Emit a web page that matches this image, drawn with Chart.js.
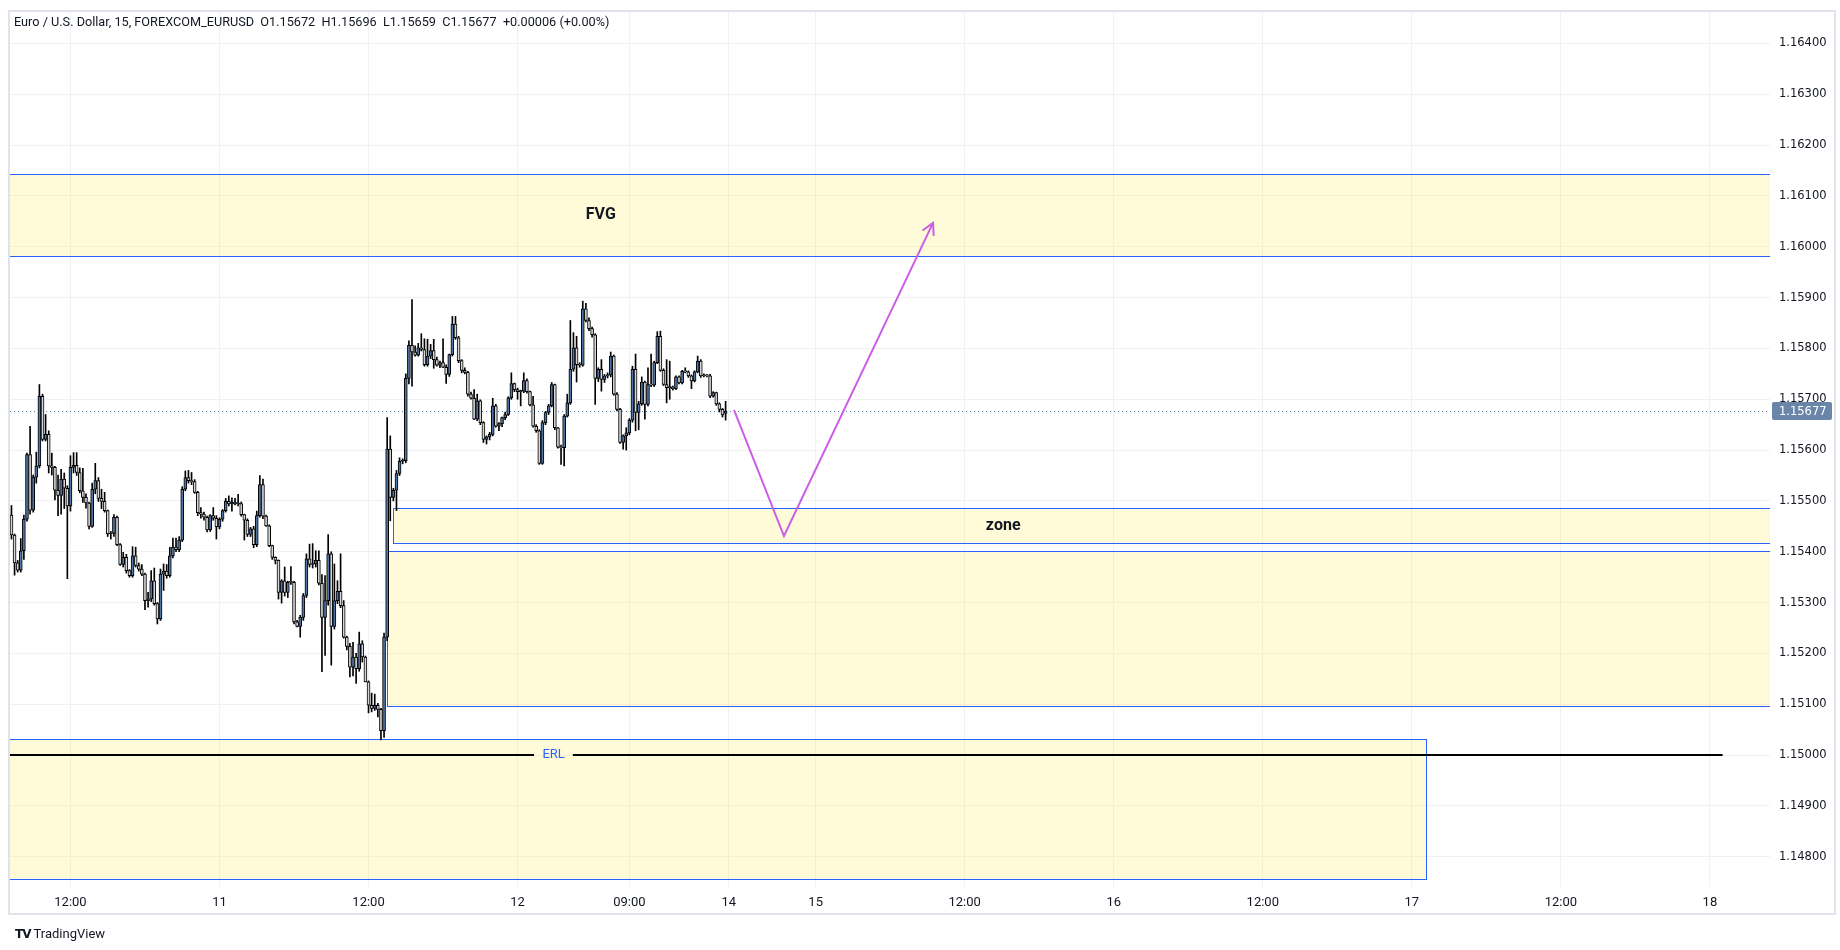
<!DOCTYPE html>
<html>
<head>
<meta charset="utf-8">
<title>EURUSD 15</title>
<script src="https://cdn.jsdelivr.net/npm/chart.js@4.4.1/dist/chart.umd.min.js"></script>
<style>
  html, body { margin: 0; padding: 0; background: #ffffff; }
  #wrap { position: relative; width: 1840px; height: 950px; overflow: hidden; }
  #chart { position: absolute; left: 0; top: 0; }
  #legend {
    position: absolute; left: 14px; top: 14px;
    font: 12.7px 'Liberation Sans Narrow', Roboto, sans-serif; color: #131722; white-space: pre;
  }
  #brand {
    position: absolute; left: 15px; top: 926px;
    font: 13px 'Liberation Sans Narrow', Roboto, sans-serif; color: #131722;
  }
  #brand b { font: 900 12px 'DejaVu Sans', sans-serif; letter-spacing: -1px; margin-right: 3px; }
</style>
</head>
<body>
<div id="wrap">
  <canvas id="chart" width="1840" height="950"></canvas>
  <div id="legend">Euro / U.S. Dollar, 15, FOREXCOM_EURUSD  O1.15672  H1.15696  L1.15659  C1.15677  +0.00006 (+0.00%)</div>
  <div id="brand"><b>TV</b>TradingView</div>
</div>
<script>
// 15 minute bars, slot 0 = day 11 00:00 (weekend slots removed)
const firstBarSlot = -67;

const opens = [
  1.15472, 1.15433, 1.15378, 1.15364, 1.15402, 1.15464, 1.15591, 1.15482, 1.15547, 1.15569,
  1.15706, 1.15621, 1.15631, 1.15569, 1.15566, 1.15521, 1.15511, 1.15543, 1.15525, 1.15490,
  1.15566, 1.15570, 1.15556, 1.15520, 1.15507, 1.15496, 1.15450, 1.15523, 1.15540, 1.15505,
  1.15499, 1.15481, 1.15435, 1.15436, 1.15468, 1.15414, 1.15375, 1.15389, 1.15363, 1.15353,
  1.15392, 1.15373, 1.15366, 1.15356, 1.15304, 1.15307, 1.15343, 1.15298, 1.15268, 1.15356,
  1.15362, 1.15353, 1.15392, 1.15409, 1.15404, 1.15423, 1.15523, 1.15546, 1.15540, 1.15538,
  1.15517, 1.15477, 1.15474, 1.15468, 1.15443, 1.15471, 1.15466, 1.15449, 1.15464, 1.15481,
  1.15499, 1.15494, 1.15498, 1.15494, 1.15495, 1.15473, 1.15462, 1.15434, 1.15445, 1.15414,
  1.15471, 1.15532, 1.15470, 1.15451, 1.15412, 1.15389, 1.15383, 1.15320, 1.15343, 1.15320,
  1.15340, 1.15340, 1.15262, 1.15253, 1.15271, 1.15314, 1.15386, 1.15375, 1.15376, 1.15383,
  1.15338, 1.15271, 1.15304, 1.15396, 1.15253, 1.15304, 1.15322, 1.15294, 1.15232, 1.15214,
  1.15173, 1.15193, 1.15170, 1.15219, 1.15193, 1.15144, 1.15098, 1.15092, 1.15098, 1.15090,
  1.15048, 1.15232, 1.15602, 1.15507, 1.15521, 1.15554, 1.15578, 1.15579, 1.15741, 1.15806,
  1.15793, 1.15787, 1.15801, 1.15798, 1.15768, 1.15785, 1.15796, 1.15778, 1.15767, 1.15772,
  1.15763, 1.15749, 1.15788, 1.15848, 1.15821, 1.15776, 1.15757, 1.15753, 1.15710, 1.15702,
  1.15661, 1.15697, 1.15654, 1.15621, 1.15626, 1.15631, 1.15687, 1.15647, 1.15652, 1.15664,
  1.15670, 1.15703, 1.15731, 1.15719, 1.15715, 1.15716, 1.15737, 1.15715, 1.15689, 1.15647,
  1.15638, 1.15574, 1.15654, 1.15674, 1.15687, 1.15729, 1.15644, 1.15606, 1.15605, 1.15667,
  1.15693, 1.15759, 1.15801, 1.15768, 1.15767, 1.15878, 1.15855, 1.15839, 1.15827, 1.15741,
  1.15759, 1.15739, 1.15746, 1.15748, 1.15785, 1.15710, 1.15680, 1.15615, 1.15628, 1.15634,
  1.15659, 1.15759, 1.15674, 1.15691, 1.15734, 1.15690, 1.15729, 1.15728, 1.15772, 1.15824,
  1.15757, 1.15729, 1.15723, 1.15724, 1.15721, 1.15744, 1.15732, 1.15755, 1.15754, 1.15746,
  1.15736, 1.15754, 1.15775, 1.15746, 1.15748, 1.15746, 1.15706, 1.15713, 1.15691, 1.15680,
  1.15672
];

const highs = [
  1.15491, 1.15435, 1.15383, 1.15426, 1.15472, 1.15594, 1.15647, 1.15551, 1.15596, 1.15729,
  1.15710, 1.15670, 1.15638, 1.15594, 1.15568, 1.15551, 1.15562, 1.15555, 1.15530, 1.15589,
  1.15595, 1.15595, 1.15565, 1.15564, 1.15514, 1.15498, 1.15535, 1.15574, 1.15546, 1.15523,
  1.15517, 1.15482, 1.15440, 1.15473, 1.15470, 1.15416, 1.15399, 1.15395, 1.15365, 1.15410,
  1.15409, 1.15378, 1.15375, 1.15358, 1.15320, 1.15363, 1.15368, 1.15300, 1.15366, 1.15376,
  1.15375, 1.15409, 1.15427, 1.15427, 1.15430, 1.15528, 1.15559, 1.15560, 1.15556, 1.15542,
  1.15519, 1.15487, 1.15478, 1.15470, 1.15473, 1.15487, 1.15471, 1.15467, 1.15483, 1.15505,
  1.15510, 1.15506, 1.15505, 1.15513, 1.15498, 1.15474, 1.15465, 1.15448, 1.15450, 1.15480,
  1.15550, 1.15543, 1.15472, 1.15453, 1.15413, 1.15390, 1.15384, 1.15345, 1.15370, 1.15342,
  1.15371, 1.15342, 1.15265, 1.15275, 1.15318, 1.15396, 1.15415, 1.15416, 1.15402, 1.15402,
  1.15355, 1.15353, 1.15434, 1.15400, 1.15376, 1.15343, 1.15396, 1.15304, 1.15234, 1.15220,
  1.15222, 1.15200, 1.15242, 1.15225, 1.15195, 1.15146, 1.15122, 1.15120, 1.15102, 1.15092,
  1.15240, 1.15664, 1.15628, 1.15525, 1.15560, 1.15585, 1.15583, 1.15750, 1.15815, 1.15896,
  1.15805, 1.15810, 1.15829, 1.15819, 1.15818, 1.15808, 1.15818, 1.15783, 1.15775, 1.15819,
  1.15768, 1.15789, 1.15863, 1.15863, 1.15824, 1.15778, 1.15762, 1.15755, 1.15714, 1.15719,
  1.15710, 1.15699, 1.15656, 1.15628, 1.15635, 1.15702, 1.15690, 1.15654, 1.15665, 1.15675,
  1.15705, 1.15752, 1.15732, 1.15722, 1.15718, 1.15752, 1.15740, 1.15716, 1.15706, 1.15650,
  1.15640, 1.15658, 1.15676, 1.15690, 1.15733, 1.15730, 1.15645, 1.15610, 1.15670, 1.15710,
  1.15855, 1.15831, 1.15824, 1.15772, 1.15893, 1.15889, 1.15860, 1.15842, 1.15829, 1.15762,
  1.15778, 1.15749, 1.15752, 1.15793, 1.15787, 1.15713, 1.15682, 1.15630, 1.15644, 1.15662,
  1.15765, 1.15789, 1.15696, 1.15744, 1.15736, 1.15762, 1.15789, 1.15775, 1.15833, 1.15834,
  1.15760, 1.15778, 1.15775, 1.15726, 1.15746, 1.15746, 1.15757, 1.15762, 1.15756, 1.15748,
  1.15756, 1.15785, 1.15778, 1.15750, 1.15749, 1.15749, 1.15715, 1.15714, 1.15693, 1.15682,
  1.15696
];

const lows = [
  1.15425, 1.15354, 1.15360, 1.15360, 1.15385, 1.15460, 1.15474, 1.15478, 1.15535, 1.15565,
  1.15618, 1.15618, 1.15555, 1.15551, 1.15502, 1.15471, 1.15474, 1.15485, 1.15347, 1.15480,
  1.15555, 1.15550, 1.15516, 1.15497, 1.15486, 1.15445, 1.15448, 1.15514, 1.15499, 1.15485,
  1.15478, 1.15430, 1.15425, 1.15430, 1.15412, 1.15373, 1.15370, 1.15358, 1.15350, 1.15350,
  1.15370, 1.15362, 1.15353, 1.15286, 1.15291, 1.15302, 1.15295, 1.15258, 1.15265, 1.15324,
  1.15348, 1.15350, 1.15388, 1.15400, 1.15400, 1.15420, 1.15520, 1.15535, 1.15532, 1.15515,
  1.15471, 1.15466, 1.15462, 1.15439, 1.15440, 1.15462, 1.15425, 1.15445, 1.15460, 1.15478,
  1.15490, 1.15480, 1.15492, 1.15490, 1.15470, 1.15423, 1.15430, 1.15430, 1.15408, 1.15410,
  1.15468, 1.15465, 1.15450, 1.15410, 1.15385, 1.15376, 1.15307, 1.15299, 1.15313, 1.15310,
  1.15336, 1.15258, 1.15252, 1.15232, 1.15265, 1.15310, 1.15370, 1.15368, 1.15370, 1.15335,
  1.15164, 1.15196, 1.15295, 1.15177, 1.15248, 1.15298, 1.15290, 1.15230, 1.15207, 1.15154,
  1.15156, 1.15141, 1.15165, 1.15183, 1.15144, 1.15083, 1.15085, 1.15088, 1.15075, 1.15030,
  1.15035, 1.15225, 1.15461, 1.15500, 1.15481, 1.15550, 1.15573, 1.15575, 1.15730, 1.15726,
  1.15785, 1.15785, 1.15795, 1.15765, 1.15765, 1.15780, 1.15761, 1.15765, 1.15762, 1.15762,
  1.15731, 1.15745, 1.15785, 1.15818, 1.15772, 1.15752, 1.15750, 1.15706, 1.15700, 1.15660,
  1.15658, 1.15650, 1.15615, 1.15612, 1.15620, 1.15628, 1.15645, 1.15638, 1.15646, 1.15660,
  1.15668, 1.15700, 1.15715, 1.15700, 1.15687, 1.15713, 1.15712, 1.15687, 1.15645, 1.15635,
  1.15572, 1.15572, 1.15650, 1.15670, 1.15685, 1.15640, 1.15604, 1.15572, 1.15569, 1.15665,
  1.15690, 1.15755, 1.15734, 1.15763, 1.15765, 1.15852, 1.15835, 1.15822, 1.15690, 1.15735,
  1.15716, 1.15733, 1.15742, 1.15744, 1.15708, 1.15677, 1.15613, 1.15602, 1.15600, 1.15630,
  1.15655, 1.15638, 1.15640, 1.15688, 1.15661, 1.15687, 1.15725, 1.15725, 1.15770, 1.15755,
  1.15727, 1.15693, 1.15700, 1.15718, 1.15719, 1.15730, 1.15730, 1.15752, 1.15743, 1.15721,
  1.15734, 1.15752, 1.15743, 1.15744, 1.15744, 1.15703, 1.15704, 1.15688, 1.15675, 1.15665,
  1.15659
];

const closes = [
  1.15433, 1.15378, 1.15364, 1.15402, 1.15464, 1.15591, 1.15482, 1.15547, 1.15569, 1.15706,
  1.15621, 1.15631, 1.15569, 1.15566, 1.15521, 1.15511, 1.15543, 1.15525, 1.15490, 1.15566,
  1.15570, 1.15556, 1.15520, 1.15507, 1.15496, 1.15450, 1.15523, 1.15540, 1.15505, 1.15499,
  1.15481, 1.15435, 1.15436, 1.15468, 1.15414, 1.15375, 1.15389, 1.15363, 1.15353, 1.15392,
  1.15373, 1.15366, 1.15356, 1.15304, 1.15307, 1.15343, 1.15298, 1.15268, 1.15356, 1.15362,
  1.15353, 1.15392, 1.15409, 1.15404, 1.15423, 1.15523, 1.15546, 1.15540, 1.15538, 1.15517,
  1.15477, 1.15474, 1.15468, 1.15443, 1.15471, 1.15466, 1.15449, 1.15464, 1.15481, 1.15499,
  1.15494, 1.15498, 1.15494, 1.15495, 1.15473, 1.15462, 1.15434, 1.15445, 1.15414, 1.15471,
  1.15532, 1.15470, 1.15451, 1.15412, 1.15389, 1.15383, 1.15320, 1.15343, 1.15320, 1.15340,
  1.15340, 1.15262, 1.15253, 1.15271, 1.15314, 1.15386, 1.15375, 1.15376, 1.15383, 1.15338,
  1.15271, 1.15304, 1.15396, 1.15253, 1.15304, 1.15322, 1.15294, 1.15232, 1.15214, 1.15173,
  1.15193, 1.15170, 1.15219, 1.15193, 1.15144, 1.15098, 1.15092, 1.15098, 1.15090, 1.15048,
  1.15232, 1.15602, 1.15507, 1.15521, 1.15554, 1.15578, 1.15579, 1.15741, 1.15806, 1.15793,
  1.15787, 1.15801, 1.15798, 1.15768, 1.15785, 1.15796, 1.15778, 1.15767, 1.15772, 1.15763,
  1.15749, 1.15788, 1.15848, 1.15821, 1.15776, 1.15757, 1.15753, 1.15710, 1.15702, 1.15661,
  1.15697, 1.15654, 1.15621, 1.15626, 1.15631, 1.15687, 1.15647, 1.15652, 1.15664, 1.15670,
  1.15703, 1.15731, 1.15719, 1.15715, 1.15716, 1.15737, 1.15715, 1.15689, 1.15647, 1.15638,
  1.15574, 1.15654, 1.15674, 1.15687, 1.15729, 1.15644, 1.15606, 1.15605, 1.15667, 1.15693,
  1.15759, 1.15801, 1.15768, 1.15767, 1.15878, 1.15855, 1.15839, 1.15827, 1.15741, 1.15759,
  1.15739, 1.15746, 1.15748, 1.15785, 1.15710, 1.15680, 1.15615, 1.15628, 1.15634, 1.15659,
  1.15759, 1.15674, 1.15691, 1.15734, 1.15690, 1.15729, 1.15728, 1.15772, 1.15824, 1.15757,
  1.15729, 1.15723, 1.15724, 1.15721, 1.15744, 1.15732, 1.15755, 1.15754, 1.15746, 1.15736,
  1.15754, 1.15775, 1.15746, 1.15748, 1.15746, 1.15706, 1.15713, 1.15691, 1.15680, 1.15669,
  1.15677
];

// time axis labels (slot positions) and price ticks
const timeTickSlots  = [-48, 0, 48, 96, 132, 164, 192, 240, 288, 336, 384, 432, 480];
const timeTickLabels = ['12:00', '11', '12:00', '12', '09:00', '14', '15', '12:00', '16', '12:00', '17', '12:00', '18'];
const priceTicks = [1.148, 1.149, 1.150, 1.151, 1.152, 1.153, 1.154, 1.155, 1.156,
                    1.157, 1.158, 1.159, 1.160, 1.161, 1.162, 1.163, 1.164];
const lastPrice = 1.15677;

// drawings: [fromSlot, toSlot, topPrice, bottomPrice]
const fvgBox  = [-200, 700, 1.16143, 1.15982];
const zoneBox = [56, 700, 1.15486, 1.15417];
const bigBox  = [54, 700, 1.15402, 1.15097];
const erlBox  = [-200, 388.5, 1.15031, 1.14756];
const erlLevel = 1.15;
const erlLineEnd = 484.1;
const erlGap = [101.3, 113.8];
const pathSlots  = [165.7, 181.8, 229.8];
const pathPrices = [1.15679, 1.15431, 1.16047];
const labelFVG  = [122.8, 1.16063];
const labelZone = [252.4, 1.15451];
const labelERL  = [107.6, 1.15];

const upColor = '#4f75a8';
const downColor = '#d6d6d6';
const zoneFill = 'rgba(255, 235, 59, 0.2)';
const zoneLine = '#2962ff';
const pathColor = '#cc5de6';

const slots = opens.map((_, i) => firstBarSlot + i);
const bodies = slots.map((s, i) => ({ x: s, y: [opens[i], closes[i]] }));
const wicks = slots.map((s, i) => ({ x: s, y: [lows[i], highs[i]] }));
const bodyColors = closes.map((c, i) => c >= opens[i] ? upColor : downColor);

const arrowPath = pathSlots.map((s, i) => ({ x: s, y: pathPrices[i] }));
const erlLine = [
  { x: -200, y: erlLevel }, { x: erlGap[0], y: erlLevel }, { x: (erlGap[0] + erlGap[1]) / 2, y: null },
  { x: erlGap[1], y: erlLevel }, { x: erlLineEnd, y: erlLevel }
];

const drawings = {
  id: 'drawings',
  beforeDatasetsDraw(chart) {
    const { ctx, chartArea: a, scales: { x, y } } = chart;
    ctx.save();
    ctx.beginPath();
    ctx.rect(a.left, a.top, a.right - a.left, a.bottom - a.top);
    ctx.clip();

    const box = (b) => {
      const x0 = Math.round(x.getPixelForValue(b[0]));
      const x1 = Math.round(x.getPixelForValue(b[1]));
      const y0 = Math.round(y.getPixelForValue(b[2]));
      const y1 = Math.round(y.getPixelForValue(b[3]));
      ctx.fillStyle = zoneFill;
      ctx.fillRect(x0, y0, x1 - x0, y1 - y0);
      ctx.strokeStyle = zoneLine;
      ctx.lineWidth = 1;
      ctx.strokeRect(x0 + 0.5, y0 + 0.5, x1 - x0, y1 - y0);
    };
    box(fvgBox);
    box(bigBox);
    box(zoneBox);
    box(erlBox);

    // last price dotted line
    const py = Math.round(y.getPixelForValue(lastPrice)) + 0.5;
    ctx.strokeStyle = '#5d7ea6';
    ctx.lineWidth = 1;
    ctx.setLineDash([1, 3]);
    ctx.beginPath();
    ctx.moveTo(a.left, py);
    ctx.lineTo(a.right, py);
    ctx.stroke();
    ctx.restore();
  },
  afterDatasetsDraw(chart) {
    const { ctx, chartArea: a, scales: { x, y } } = chart;
    ctx.save();
    ctx.beginPath();
    ctx.rect(a.left, a.top, a.right - a.left, a.bottom - a.top);
    ctx.clip();

    // arrow head at the end of the path
    const n = pathSlots.length;
    const tx = x.getPixelForValue(pathSlots[n - 1]), ty = y.getPixelForValue(pathPrices[n - 1]);
    const fx = x.getPixelForValue(pathSlots[n - 2]), fy = y.getPixelForValue(pathPrices[n - 2]);
    const ang = Math.atan2(ty - fy, tx - fx);
    ctx.strokeStyle = pathColor;
    ctx.lineWidth = 2;
    ctx.beginPath();
    ctx.moveTo(tx - 13 * Math.cos(ang - 0.5), ty - 13 * Math.sin(ang - 0.5));
    ctx.lineTo(tx, ty);
    ctx.lineTo(tx - 13 * Math.cos(ang + 0.5), ty - 13 * Math.sin(ang + 0.5));
    ctx.stroke();

    ctx.textAlign = 'center';
    ctx.textBaseline = 'middle';
    ctx.fillStyle = '#131722';
    ctx.font = 'bold 16px Roboto, sans-serif';
    ctx.fillText('FVG', x.getPixelForValue(labelFVG[0]), y.getPixelForValue(labelFVG[1]));
    ctx.fillText('zone', x.getPixelForValue(labelZone[0]), y.getPixelForValue(labelZone[1]));
    ctx.fillStyle = zoneLine;
    ctx.font = '13px Roboto, sans-serif';
    ctx.fillText('ERL', x.getPixelForValue(labelERL[0]), y.getPixelForValue(labelERL[1]));
    ctx.restore();
  },
  afterDraw(chart) {
    const { ctx, chartArea: a, scales: { y } } = chart;
    ctx.save();
    // last price tag on the price scale
    const py = Math.round(y.getPixelForValue(lastPrice));
    ctx.fillStyle = '#6a85a8';
    ctx.beginPath();
    ctx.roundRect(a.right + 2, py - 9, 60, 18, 2);
    ctx.fill();
    ctx.fillStyle = '#ffffff';
    ctx.font = '11.5px "DejaVu Sans", sans-serif';
    ctx.textBaseline = 'middle';
    ctx.fillText(lastPrice.toFixed(5), a.right + 9, py + 1);
    // pane frame
    ctx.strokeStyle = '#e0e3eb';
    ctx.lineWidth = 2;
    ctx.strokeRect(9, 11, 1826, 903);
    ctx.restore();
  }
};

new Chart(document.getElementById('chart'), {
  type: 'bar',
  data: {
    datasets: [
      { type: 'line', data: arrowPath, borderColor: pathColor, borderWidth: 2, pointRadius: 0, order: 0 },
      { type: 'line', data: erlLine, borderColor: '#000000', borderWidth: 2, pointRadius: 0, spanGaps: false, order: 1 },
      { data: bodies, backgroundColor: bodyColors, borderColor: '#000000', borderWidth: 1,
        borderSkipped: false, barThickness: 3, minBarLength: 1, grouped: false, order: 2 },
      { data: wicks, backgroundColor: '#000000', borderWidth: 0, barThickness: 1, grouped: false, order: 3 }
    ]
  },
  options: {
    responsive: false,
    devicePixelRatio: 1,
    animation: false,
    events: [],
    layout: { padding: { left: 10, right: 4, top: 12, bottom: 36 } },
    plugins: { legend: { display: false }, tooltip: { enabled: false } },
    scales: {
      x: {
        type: 'linear',
        position: 'bottom',
        offset: false,
        min: -67.47,
        max: 499.36,
        afterBuildTicks: s => { s.ticks = timeTickSlots.map(v => ({ value: v })); },
        afterFit: s => { s.height = 27; s.paddingLeft = 0; s.paddingRight = 0; },
        grid: { color: '#f0f1f4', drawTicks: false, offset: false },
        border: { display: false },
        ticks: {
          autoSkip: false, maxRotation: 0, padding: 8, color: '#131722',
          font: { family: "'Liberation Sans Narrow', Roboto, sans-serif", size: 13 },
          callback: v => {
            const i = timeTickSlots.indexOf(v);
            return i >= 0 ? timeTickLabels[i] : '';
          }
        }
      },
      y: {
        position: 'right',
        min: 1.147405,
        max: 1.164619,
        afterBuildTicks: s => { s.ticks = priceTicks.map(v => ({ value: v })); },
        afterFit: s => { s.width = 66; s.paddingTop = 0; s.paddingBottom = 0; },
        grid: { color: '#f0f1f4', drawTicks: false },
        border: { display: false },
        ticks: {
          padding: 9, color: '#131722',
          font: { family: "'DejaVu Sans', sans-serif", size: 11.5 },
          callback: v => v.toFixed(5)
        }
      }
    }
  },
  plugins: [drawings]
});
</script>
</body>
</html>
